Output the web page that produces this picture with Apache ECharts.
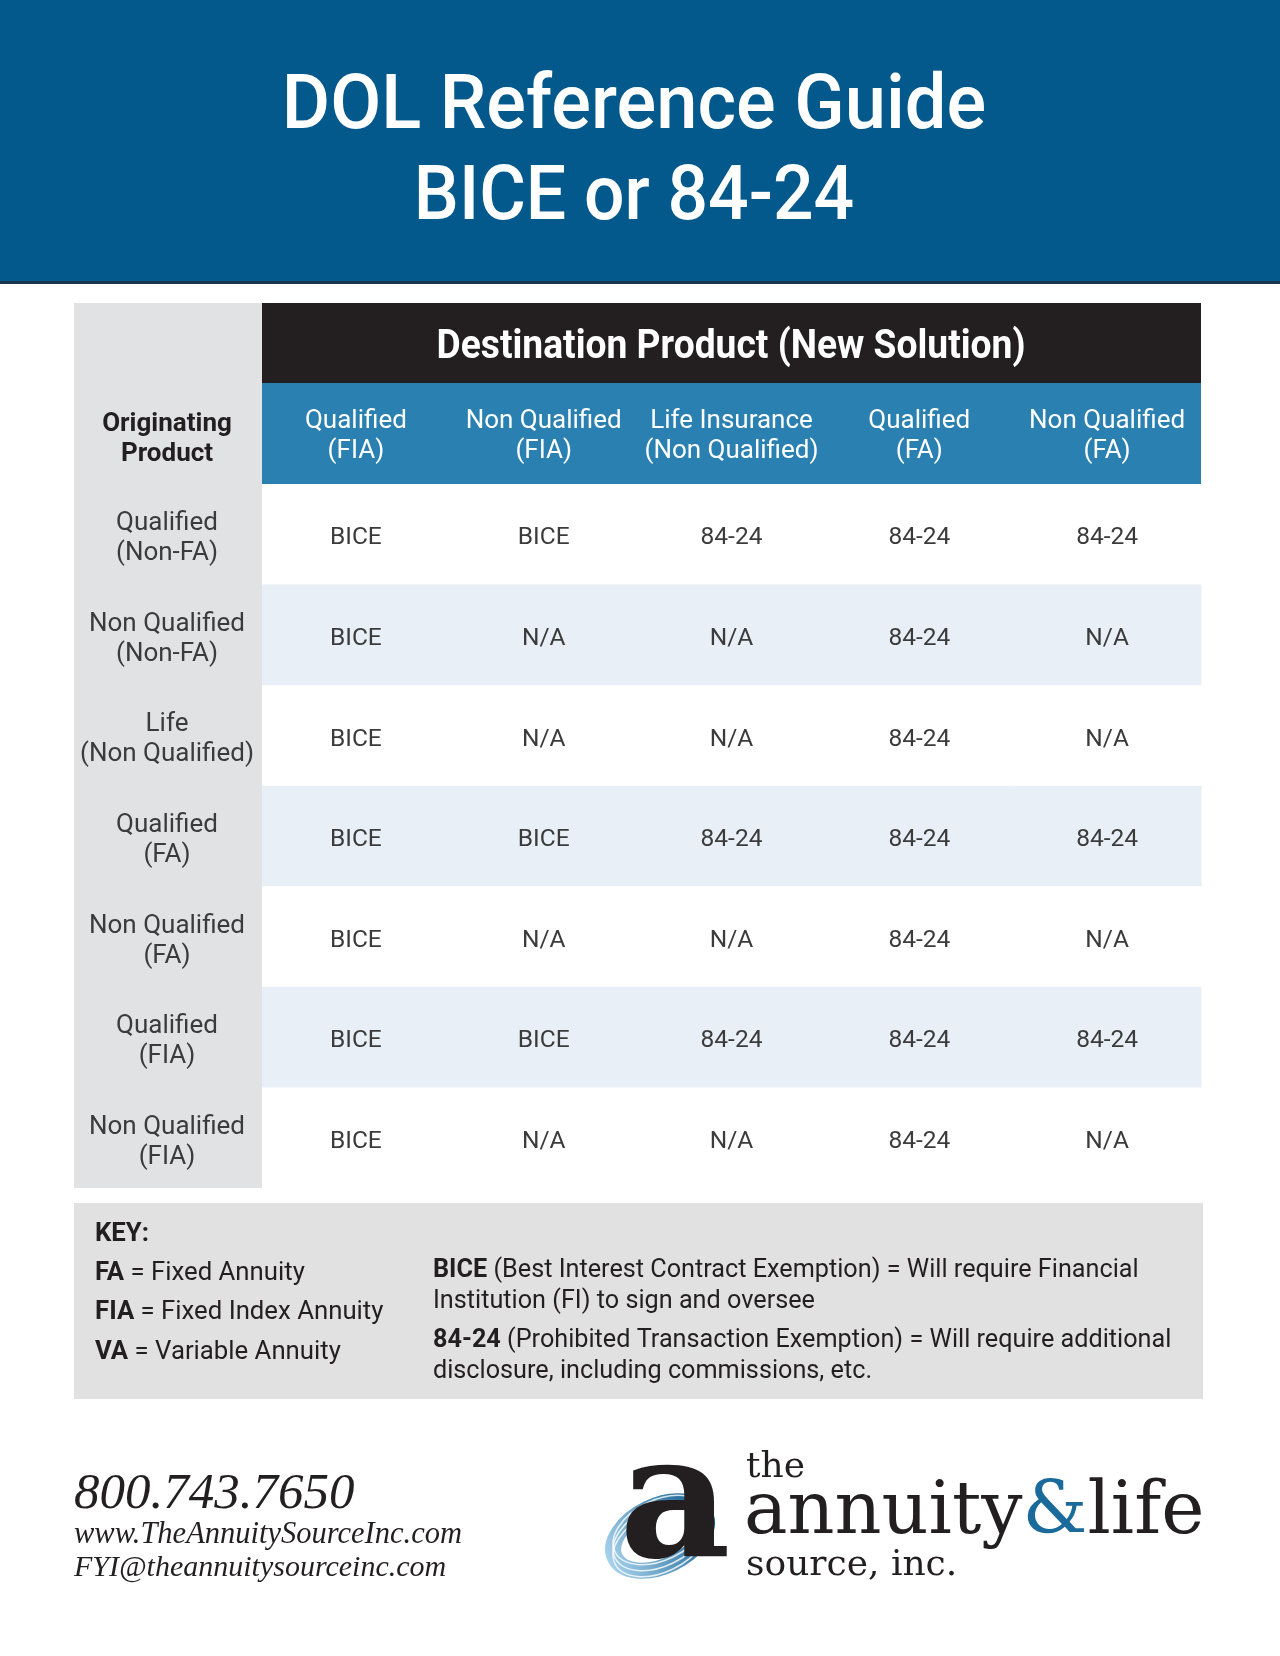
<!DOCTYPE html>
<html><head><meta charset="utf-8">
<script src="https://cdn.jsdelivr.net/npm/echarts@6/dist/echarts.min.js"></script>
<style>html,body{margin:0;padding:0;background:#fff}#c{width:1280px;height:1656px}</style>
</head><body><div id="c"></div>
<script>
// ---- data ----
const destColumns = ['Qualified\n(FIA)', 'Non Qualified\n(FIA)', 'Life Insurance\n(Non Qualified)', 'Qualified\n(FA)', 'Non Qualified\n(FA)'];
const originRows = ['Qualified\n(Non-FA)', 'Non Qualified\n(Non-FA)', 'Life\n(Non Qualified)', 'Qualified\n(FA)', 'Non Qualified\n(FA)', 'Qualified\n(FIA)', 'Non Qualified\n(FIA)'];
const rowQualifiedNonFA    = ['BICE', 'BICE', '84-24', '84-24', '84-24'];
const rowNonQualifiedNonFA = ['BICE', 'N/A', 'N/A', '84-24', 'N/A'];
const rowLifeNonQualified  = ['BICE', 'N/A', 'N/A', '84-24', 'N/A'];
const rowQualifiedFA       = ['BICE', 'BICE', '84-24', '84-24', '84-24'];
const rowNonQualifiedFA    = ['BICE', 'N/A', 'N/A', '84-24', 'N/A'];
const rowQualifiedFIA      = ['BICE', 'BICE', '84-24', '84-24', '84-24'];
const rowNonQualifiedFIA   = ['BICE', 'N/A', 'N/A', '84-24', 'N/A'];
const tableRows = [rowQualifiedNonFA, rowNonQualifiedNonFA, rowLifeNonQualified, rowQualifiedFA, rowNonQualifiedFA, rowQualifiedFIA, rowNonQualifiedFIA];

const titleLines = ['DOL Reference Guide', 'BICE or 84-24'];
const destHeading = 'Destination Product (New Solution)';
const originHeading = 'Originating\nProduct';
const keyLeft = [['FA', ' = Fixed Annuity'], ['FIA', ' = Fixed Index Annuity'], ['VA', ' = Variable Annuity']];
const keyRight = [
  ['BICE', ' (Best Interest Contract Exemption) = Will require Financial', 'Institution (FI) to sign and oversee'],
  ['84-24', ' (Prohibited Transaction Exemption) = Will require additional', 'disclosure, including commissions, etc.']
];
const contactLines = ['800.743.7650', 'www.TheAnnuitySourceInc.com', 'FYI@theannuitysourceinc.com'];

// ---- build ----
const cellData = [];
tableRows.forEach((r, ri) => r.forEach((v, ci) => cellData.push([ci, ri, v])));

const SANS = 'Roboto, "Noto Sans", sans-serif';
const DARK = '#231f20';
const TXT = '#3b3b3b';

const chart = echarts.init(document.getElementById('c'));

const graphics = [
  { type: 'rect', z: -10, shape: { x: 0, y: 0, width: 1280, height: 283 }, style: { fill: '#03588c' } },
  { type: 'rect', z: -9, shape: { x: 0, y: 281, width: 1280, height: 3 }, style: { fill: '#15354c' } },
  { type: 'text', z: 50, x: 634, y: 109, scaleX: 0.975, style: { text: titleLines[0], font: '500 76px ' + SANS, fill: '#fff', textAlign: 'center', textVerticalAlign: 'middle' } },
  { type: 'text', z: 50, x: 634, y: 200, scaleX: 0.94, style: { text: titleLines[1], font: '500 76px ' + SANS, fill: '#fff', textAlign: 'center', textVerticalAlign: 'middle' } },
  { type: 'rect', z: -10, shape: { x: 74, y: 303, width: 188, height: 885 }, style: { fill: '#e1e2e3' } },
  { type: 'rect', z: -10, shape: { x: 262, y: 303, width: 939, height: 80 }, style: { fill: DARK } },
  { type: 'rect', z: -10, shape: { x: 262, y: 383, width: 939, height: 101 }, style: { fill: '#2980b1' } },
  { type: 'text', z: 50, x: 731, y: 348, scaleX: 0.93, style: { text: destHeading, font: 'bold 40px ' + SANS, fill: '#fff', textAlign: 'center', textVerticalAlign: 'middle' } },
  { type: 'text', z: 50, x: 167, y: 439, style: { text: originHeading, font: 'bold 26px ' + SANS, lineHeight: 30, fill: DARK, textAlign: 'center', textVerticalAlign: 'middle' } },
  { type: 'rect', z: -10, shape: { x: 74, y: 1203, width: 1129, height: 196 }, style: { fill: '#e1e1e1' } },
  { type: 'text', z: 50, x: 95, y: 1234, scaleX: 0.99, style: { text: 'KEY:', font: 'bold 26px ' + SANS, fill: DARK, textVerticalAlign: 'middle' } }
];
const keyLeftY = [1273, 1312, 1352];
keyLeft.forEach((k, i) => {
  graphics.push({ type: 'text', z: 50, x: 95, y: keyLeftY[i], scaleX: 0.99,
    style: { text: '{b|' + k[0] + '}' + k[1], font: '26px ' + SANS, fill: DARK, textVerticalAlign: 'middle',
      rich: { b: { fontWeight: 'bold', fontSize: 26, fontFamily: 'Roboto', fill: DARK } } } });
});
const keyRightY = [[1270, 1301], [1340, 1371]];
keyRight.forEach((k, i) => {
  graphics.push({ type: 'text', z: 50, x: 433, y: keyRightY[i][0], scaleX: 0.97,
    style: { text: '{b|' + k[0] + '}' + k[1], font: '26px ' + SANS, fill: DARK, textVerticalAlign: 'middle',
      rich: { b: { fontWeight: 'bold', fontSize: 26, fontFamily: 'Roboto', fill: DARK } } } });
  graphics.push({ type: 'text', z: 50, x: 433, y: keyRightY[i][1], scaleX: 0.97,
    style: { text: k[2], font: '26px ' + SANS, fill: DARK, textVerticalAlign: 'middle' } });
});
// contact
graphics.push({ type: 'text', z: 50, x: 74, y: 1495, style: { text: contactLines[0], font: 'italic 51px "Liberation Serif", serif', fill: DARK, textVerticalAlign: 'middle' } });
graphics.push({ type: 'text', z: 50, x: 74, y: 1535, style: { text: contactLines[1], font: 'italic 30.5px "Liberation Serif", serif', fill: DARK, textVerticalAlign: 'middle' } });
graphics.push({ type: 'text', z: 50, x: 74, y: 1568, style: { text: contactLines[2], font: 'italic 30px "Liberation Serif", serif', fill: DARK, textVerticalAlign: 'middle' } });
// logo mark
graphics.push({ type: 'ellipse', z: 40, x: 660, y: 1536, rotation: 0.45, shape: { cx: 0, cy: 0, rx: 50, ry: 30 },
  style: { fill: 'none', stroke: new echarts.graphic.LinearGradient(0, 0, 1, 0, [{ offset: 0, color: '#a8d2ec' }, { offset: 1, color: '#0b5a8e' }]), lineWidth: 16 } });
[-6, 0, 6].forEach(d => graphics.push({ type: 'ellipse', z: 41, x: 660, y: 1536 + d, rotation: 0.45, shape: { cx: 0, cy: 0, rx: 50, ry: 30 },
  style: { fill: 'none', stroke: 'rgba(255,255,255,0.8)', lineWidth: 1.5 } }));
graphics.push({ type: 'text', z: 45, x: 675, y: 1512, style: { text: 'a', font: 'bold 172px "DejaVu Serif", serif', fill: DARK, textAlign: 'center', textVerticalAlign: 'middle' } });
graphics.push({ type: 'text', z: 50, x: 746, y: 1468, style: { text: 'the', font: '36px "DejaVu Serif", serif', fill: DARK, textVerticalAlign: 'middle' } });
graphics.push({ type: 'text', z: 50, x: 744, y: 1514, style: { text: 'annuity{amp|&}life', font: '73px "DejaVu Serif", serif', fill: DARK, textVerticalAlign: 'middle',
  rich: { amp: { fontSize: 73, fontFamily: 'DejaVu Serif', fill: '#1a6a9c' } } } });
graphics.push({ type: 'text', z: 50, x: 746, y: 1566, style: { text: 'source, inc.', font: '36px "DejaVu Serif", serif', fill: DARK, textVerticalAlign: 'middle' } });

chart.setOption({
  animation: false,
  backgroundColor: '#ffffff',
  grid: { left: 262, right: 79, top: 484, bottom: 468, containLabel: false, outerBoundsMode: 'none' },
  xAxis: {
    type: 'category', position: 'top', data: destColumns,
    axisLine: { show: false }, axisTick: { show: false }, splitLine: { show: false },
    axisLabel: { color: '#ffffff', fontSize: 26, lineHeight: 30, fontFamily: 'Roboto', margin: 18, interval: 0 }
  },
  yAxis: {
    type: 'category', inverse: true, data: originRows,
    axisLine: { show: false }, axisTick: { show: false }, splitLine: { show: false },
    axisLabel: {
      color: TXT, fontSize: 26, lineHeight: 30, fontFamily: 'Roboto', align: 'center', margin: 95, interval: 0,
      formatter: v => '{s| }\n' + v.split('\n').map(l => '{r|' + l + '}').join('\n'),
      rich: {
        s: { fontSize: 1, lineHeight: 9 },
        r: { fontSize: 26, lineHeight: 30, fontFamily: 'Roboto', color: TXT, align: 'center' }
      }
    }
  },
  graphic: { elements: graphics },
  series: [{
    type: 'custom',
    data: cellData,
    encode: { x: 0, y: 1 },
    renderItem: function (params, api) {
      const ci = api.value(0), ri = api.value(1);
      const c = api.coord([ci, ri]);
      const s = api.size([1, 1]);
      const label = cellData[params.dataIndex][2];
      return {
        type: 'group',
        children: [
          { type: 'rect', shape: { x: c[0] - s[0] / 2, y: c[1] - s[1] / 2, width: s[0] + 0.5, height: s[1] + 0.5 },
            style: { fill: ri % 2 ? '#e8eff6' : '#ffffff' } },
          { type: 'text', x: c[0], y: c[1] + 4,
            style: { text: label, font: '24.5px Roboto', fill: TXT, textAlign: 'center', textVerticalAlign: 'middle' } }
        ]
      };
    }
  }]
});
</script>
</body></html>
